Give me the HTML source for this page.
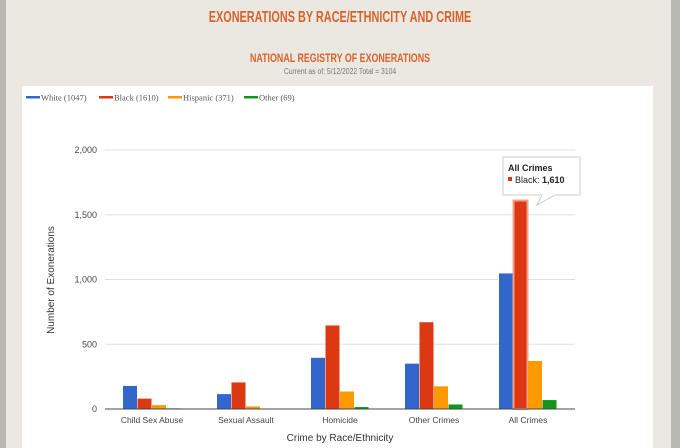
<!DOCTYPE html>
<html><head><meta charset="utf-8"><style>
body{margin:0;width:680px;height:448px;overflow:hidden;background:#ebe8e1;font-family:"Liberation Sans",sans-serif;position:relative}
.edge{position:absolute;top:0;height:448px;background:#b9b7b2}
.ttl{position:absolute;left:0;width:680px;text-align:center;color:#d9622b;font-weight:bold}
</style></head><body>
<div class="edge" style="left:0;width:6px"></div>
<div class="edge" style="right:0;width:9px"></div>
<div class="ttl" style="top:9px;font-size:16px;transform:scaleX(0.68)">EXONERATIONS BY RACE/ETHNICITY AND CRIME</div>
<div class="ttl" style="top:51px;font-size:12px;transform:scaleX(0.74)">NATIONAL REGISTRY OF EXONERATIONS</div>
<div style="position:absolute;left:0;width:680px;top:67px;text-align:center;color:#777;font-size:8px;transform:scaleX(0.85)">Current as of: 5/12/2022 Total = 3104</div>
<div style="position:absolute;left:22px;top:86px;width:631px;height:362px;background:#fff"></div>
<svg id="c" width="680" height="448" style="position:absolute;left:0;top:0"></svg>
<script>
const categories=["Child Sex Abuse","Sexual Assault","Homicide","Other Crimes","All Crimes"];
const seriesNames=["White (1047)","Black (1610)","Hispanic (371)","Other (69)"];
const white=[178,115,395,350,1047];
const black=[80,205,645,670,1610];
const hispanic=[30,20,135,175,371];
const other=[5,3,15,35,69];
const yTicks=[0,500,1000,1500,2000];
const yTickLabels=["0","500","1,000","1,500","2,000"];
const colors=["#3366cc","#dc3912","#ff9900","#109618"];
const series=[white,black,hispanic,other];
const svg=document.getElementById('c');const NS="http://www.w3.org/2000/svg";
const x0=105,x1=575,y0=409,y1=150,yMax=2000;
const y=v=>y0-(v/yMax)*(y0-y1);
const band=(x1-x0)/categories.length;
const cx=i=>x0+band*(i+0.5);
function mk(t,a){const e=document.createElementNS(NS,t);for(const k in a)e.setAttribute(k,a[k]);svg.appendChild(e);return e;}
yTicks.forEach((t,i)=>{
 const l=mk('line',{x1:x0,x2:x1,y1:y(t),y2:y(t),stroke:i==0?'#444':'#e0e0e0','stroke-width':1});
 
 
 const tx=mk('text',{x:x0-8,y:y(t)+3,'text-anchor':'end','font-size':9,fill:'#444','font-family':'Liberation Sans'});
 tx.textContent=yTickLabels[i];
 
 
});
const bw=14.5;
categories.forEach((c,i)=>{
 series.forEach((s,j)=>{
  const bx=cx(i)-2*bw+j*bw;
  const r=mk('rect',{x:bx,y:y(s[i]),width:bw-0.5,height:y0-y(s[i]),fill:colors[j]});
  
  
  if(i==4&&j==1){r.setAttribute('stroke','#f3a08a');r.setAttribute('stroke-width','2');}
 });
 const t=mk('text',{x:cx(i),y:y0+14,'text-anchor':'middle','font-size':8.5,fill:'#444','font-family':'Liberation Sans'});
 t.textContent=c;
 
 
});
mk('line',{x1:x0,x2:x1,y1:y0,y2:y0,stroke:'#444'});
const xt=mk('text',{x:340,y:441,'text-anchor':'middle','font-size':10,fill:'#333','font-family':'Liberation Sans'});xt.textContent='Crime by Race/Ethnicity';


const yt=mk('text',{x:0,y:0,transform:'translate(54,280) rotate(-90)','text-anchor':'middle','font-size':10,fill:'#333','font-family':'Liberation Sans'});yt.textContent='Number of Exonerations';


const lx=[26,99,168,244];
seriesNames.forEach((n,j)=>{
 const g=mk('g',{});
 
 
 const l=document.createElementNS(NS,'rect');l.setAttribute('x',lx[j]);l.setAttribute('y',96);l.setAttribute('width',14);l.setAttribute('height',2.5);l.setAttribute('fill',colors[j]);g.appendChild(l);
 const t=document.createElementNS(NS,'text');t.setAttribute('x',lx[j]+15);t.setAttribute('y',100.5);t.setAttribute('font-size',8.5);t.setAttribute('fill','#555');t.setAttribute('font-family','Liberation Serif');t.textContent=n;g.appendChild(t);
});
const tg=mk('g',{});


tg.innerHTML='<path d="M503 157 H580 V195 H555 L537 205 L542 195 H503 Z" fill="#fff" stroke="#ccc"/><text x="508" y="171" font-size="9" font-weight="bold" fill="#222" font-family="Liberation Sans">All Crimes</text><rect x="508" y="177" width="4" height="4" fill="#dc3912"/><text x="515" y="183" font-size="9" fill="#222" font-family="Liberation Sans">Black: <tspan font-weight="bold">1,610</tspan></text>';
</script>
</body></html>
